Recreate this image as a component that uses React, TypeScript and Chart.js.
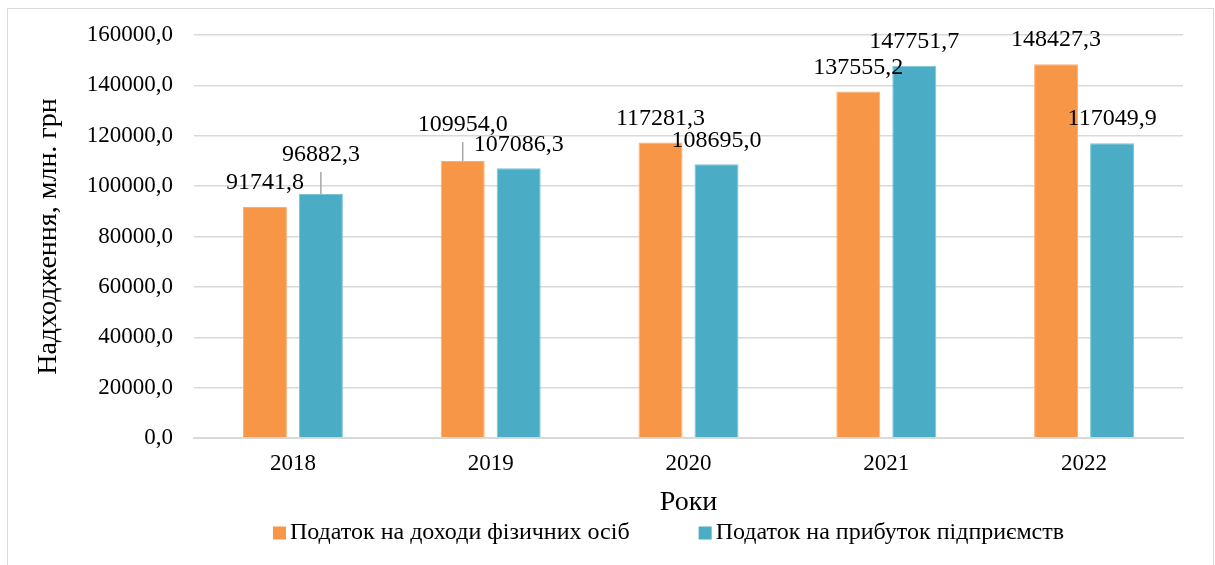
import React, { useEffect, useRef } from "react";
import { Chart, registerables } from "chart.js";

Chart.register(...registerables);

const years = ["2018", "2019", "2020", "2021", "2022"];
const pitValues = [91741.8, 109954.0, 117281.3, 137555.2, 148427.3];
const citValues = [96882.3, 107086.3, 108695.0, 147751.7, 117049.9];
const seriesNames = ["Податок на доходи фізичних осіб", "Податок на прибуток підприємств"];
const yTicks = [0, 20000, 40000, 60000, 80000, 100000, 120000, 140000, 160000];
const axisTitleY = "Надходження, млн. грн";
const axisTitleX = "Роки";

// extra lift (px) for labels that Excel moved up with leader lines: [dataset][index]
const labelLift = [
  [0, 12, 0, 0, 0],
  [15, 0, 0, 0, 0],
];

const FONT = "'Liberation Serif', 'Times New Roman', serif";
const fmt = (v: number) => v.toFixed(1).replace(".", ",");

const labelPlugin = {
  id: "valueLabels",
  afterDatasetsDraw(chart: any) {
    const ctx = chart.ctx;
    ctx.save();
    ctx.font = `24px ${FONT}`;
    ctx.fillStyle = "#000";
    ctx.textAlign = "center";
    ctx.textBaseline = "middle";
    chart.data.datasets.forEach((ds: any, di: number) => {
      const meta = chart.getDatasetMeta(di);
      meta.data.forEach((bar: any, i: number) => {
        const lift = labelLift[di][i];
        const cy = bar.y - 24 - lift;
        if (lift > 0) {
          ctx.strokeStyle = "#a6a6a6";
          ctx.lineWidth = 1.5;
          ctx.beginPath();
          ctx.moveTo(bar.x, cy + 17);
          ctx.lineTo(bar.x, bar.y);
          ctx.stroke();
        }
        ctx.fillText(fmt(ds.data[i]), bar.x, cy);
      });
    });
    ctx.restore();
  },
};

const legendPlugin = {
  id: "customLegend",
  afterDraw(chart: any) {
    const ctx = chart.ctx;
    ctx.save();
    ctx.font = `24px ${FONT}`;
    ctx.textBaseline = "middle";
    ctx.textAlign = "left";
    const box = 13;
    const gapText = 4;
    const gapItem = 69;
    const items = chart.data.datasets.map((ds: any) => ({
      label: ds.label,
      color: ds.backgroundColor,
      w: box + gapText + ctx.measureText(ds.label).width,
    }));
    const total = items.reduce((s: number, it: any) => s + it.w, 0) + gapItem * (items.length - 1);
    const area = chart.chartArea;
    let x = (area.left + area.right) / 2 - total / 2 - 20;
    const y = 524;
    items.forEach((it: any) => {
      ctx.fillStyle = it.color;
      ctx.fillRect(x, y - box / 2, box, box);
      ctx.fillStyle = "#000";
      ctx.fillText(it.label, x + box + gapText, y);
      x += it.w + gapItem;
    });
    ctx.restore();
  },
};

export default function App() {
  const ref = useRef<HTMLCanvasElement>(null);
  useEffect(() => {
    if (!ref.current) return;
    const chart = new Chart(ref.current, {
      type: "bar",
      data: {
        labels: years,
        datasets: [
          {
            label: seriesNames[0],
            data: pitValues,
            backgroundColor: "#F79646",
            borderColor: "#F9AE74",
            borderWidth: 1,
            categoryPercentage: 0.566,
            barPercentage: 0.786,
          },
          {
            label: seriesNames[1],
            data: citValues,
            backgroundColor: "#4BACC6",
            borderColor: "#7CC3D6",
            borderWidth: 1,
            categoryPercentage: 0.566,
            barPercentage: 0.786,
          },
        ],
      },
      options: {
        animation: false,
        responsive: true,
        maintainAspectRatio: false,
        layout: { padding: { left: 0, right: 30, top: 26, bottom: 46 } },
        plugins: {
          legend: { display: false },
          tooltip: { enabled: false },
        },
        scales: {
          x: {
            grid: { display: false, drawTicks: false },
            border: { display: true, color: "#d9d9d9", width: 2 },
            ticks: { color: "#000", font: { family: FONT, size: 23 }, padding: 12 },
            title: {
              display: true,
              text: axisTitleX,
              color: "#000",
              font: { family: FONT, size: 28 },
              padding: { top: 0, bottom: 0 },
            },
            afterFit: (scale: any) => {
              scale.height = 81;
              scale.paddingLeft = 0;
              scale.paddingRight = 0;
            },
          },
          y: {
            min: 0,
            max: 160000,
            afterBuildTicks: (scale: any) => {
              scale.ticks = yTicks.map((v) => ({ value: v }));
            },
            grid: { color: "#d9d9d9", lineWidth: 1.5, drawTicks: false },
            border: { display: false },
            ticks: {
              color: "#000",
              font: { family: FONT, size: 23 },
              padding: 21,
              callback: (v: any) => fmt(Number(v)),
            },
            title: {
              display: true,
              text: axisTitleY,
              color: "#000",
              font: { family: FONT, size: 28 },
              padding: { top: 24, bottom: 0 },
            },
            afterFit: (scale: any) => {
              scale.width = 186;
              scale.paddingTop = 0;
              scale.paddingBottom = 0;
            },
          },
        },
      },
      plugins: [labelPlugin, legendPlugin],
    });
    return () => chart.destroy();
  }, []);

  return (
    <div
      style={{
        position: "fixed",
        left: 7,
        top: 8,
        width: 1207,
        height: 557,
        border: "1px solid #d9d9d9",
        borderBottom: "none",
        boxSizing: "border-box",
        background: "#fff",
      }}
    >
      <div style={{ position: "relative", width: "100%", height: "100%" }}>
        <canvas ref={ref} />
      </div>
    </div>
  );
}
